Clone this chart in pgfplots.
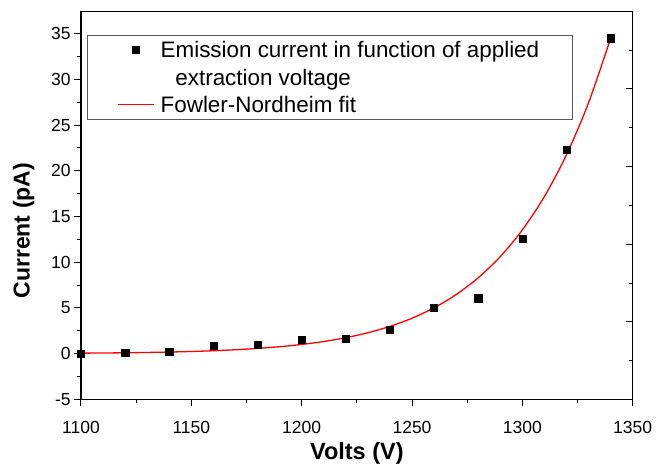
\documentclass[border=0pt]{standalone}
\usepackage{pgfplots}
\pgfplotsset{compat=1.18}
\usepackage{fontspec}
\setmainfont{Liberation Sans}
\begin{document}
\begin{tikzpicture}[x=1pt,y=1pt]
\path[use as bounding box] (0,0) rectangle (669,466);
% overlay axis: top and right ticks (inside)
\begin{axis}[at={(81pt,66.7pt)}, anchor=south west, scale only axis,
  width=551.7pt, height=387.6pt,
  xmin=1100, xmax=1350, ymin=-5, ymax=37.4,
  axis line style={line width=1.2pt},
  tick align=inside, tick style={black, line width=1pt},
  xtick pos=top, ytick pos=right,
  xtick=\empty, minor xtick={1100,1125,...,1350},
  ytick={3.46,11.97,20.5,28.98}, yticklabels={},
  minor ytick={-0.76,7.7,16.2,24.7,33.2},
  major tick length=6.7pt, minor tick length=4pt,
]
\end{axis}
\begin{axis}[at={(81pt,66.7pt)}, anchor=south west, scale only axis,
  width=551.7pt, height=387.6pt,
  xmin=1100, xmax=1350, ymin=-5, ymax=37.4,
  clip=false,
  axis line style={line width=1.2pt},
  tick align=outside, tick style={black, line width=1pt},
  xtick pos=bottom, ytick pos=left,
  xtick={1100,1150,...,1350}, minor x tick num=1,
  ytick={-5,0,...,35}, minor y tick num=1,
  major tick length=6.8pt, minor tick length=3.6pt,
  /pgf/number format/assume math mode=true,
  /pgf/number format/1000 sep={},
  tick label style={font=\fontsize{17.5}{20}\selectfont},
  xticklabel style={anchor=base, yshift=-27.4pt},
  xlabel={\bfseries Volts (V)},
  ylabel={\bfseries Current (pA)},
  xlabel style={font=\fontsize{23.5}{26}\selectfont, at={(axis description cs:0.5,0)}, anchor=base, yshift=-60pt},
  ylabel style={font=\fontsize{23}{26}\selectfont, at={(axis description cs:-0.1039,0.435)}, anchor=center},
  legend image code/.code={\draw[mark repeat=2,mark phase=2,#1] plot coordinates {(0pt,0pt) (17.5pt,0pt) (35pt,0pt)};},
  legend cell align=left,
  legend style={at={(axis description cs:0.0109,0.940)}, anchor=north west,
    draw=black!65, line width=0.8pt, inner xsep=30pt, inner ysep=3.3pt, row sep=5.5pt, column sep=4pt,
    font=\fontsize{22.4}{26}\selectfont,
    nodes={inner sep=3pt, text height=16pt, text depth=0pt}},
]
\addplot[only marks, mark=square*, mark size=3.6pt, black] coordinates {
(1100,0.0) (1120,0.1) (1140,0.25) (1160,0.9) (1180,0.95) (1200,1.55)
(1220,1.6) (1240,2.65) (1260,5.05) (1280,6.05) (1300,12.6) (1320,22.3) (1340,34.5)
};
\addlegendentry{Emission current in function of applied}
\addlegendimage{empty legend}
\addlegendentry{\hspace*{14.7pt}extraction voltage}
\addplot[red, line width=1.3pt, smooth] coordinates {
(1100,0.047) (1110,0.065) (1120,0.090) (1130,0.124) (1140,0.169) (1150,0.231)
(1160,0.312) (1170,0.421) (1180,0.564) (1190,0.753) (1200,1.000) (1210,1.322)
(1220,1.740) (1230,2.280) (1240,2.976) (1250,3.868) (1260,5.007) (1270,6.455)
(1280,8.292) (1290,10.61) (1300,13.53) (1310,17.18) (1320,21.75) (1330,27.44) (1340,34.49)
};
\addlegendentry{Fowler-Nordheim fit}
\end{axis}
\end{tikzpicture}
\end{document}
